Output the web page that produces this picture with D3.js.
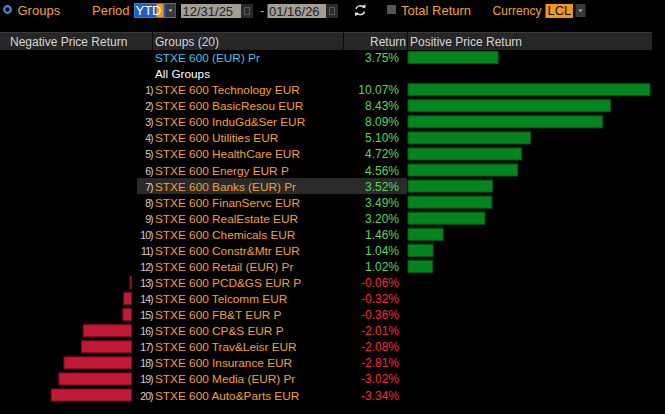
<!DOCTYPE html>
<html>
<head>
<meta charset="utf-8">
<script src="https://cdn.jsdelivr.net/npm/d3@7"></script>
<style>
  html, body { margin: 0; padding: 0; background: #000; }
  svg { display: block; font-family: "Liberation Sans", Arial, sans-serif; }
</style>
</head>
<body>
<svg id="chart" width="665" height="414"></svg>
<script>
// index row + groups
const indexName = "STXE 600 (EUR) Pr";
const indexReturn = 3.75;

const groupNames = [
  "STXE 600 Technology EUR", "STXE 600 BasicResou EUR", "STXE 600 InduGd&Ser EUR",
  "STXE 600 Utilities EUR", "STXE 600 HealthCare EUR", "STXE 600 Energy EUR P",
  "STXE 600 Banks (EUR) Pr", "STXE 600 FinanServc EUR", "STXE 600 RealEstate EUR",
  "STXE 600 Chemicals EUR", "STXE 600 Constr&Mtr EUR", "STXE 600 Retail (EUR) Pr",
  "STXE 600 PCD&GS EUR P", "STXE 600 Telcomm EUR", "STXE 600 FB&T EUR P",
  "STXE 600 CP&S EUR P", "STXE 600 Trav&Leisr EUR", "STXE 600 Insurance EUR",
  "STXE 600 Media (EUR) Pr", "STXE 600 Auto&Parts EUR"
];
const groupReturns = [
  10.07, 8.43, 8.09, 5.10, 4.72, 4.56, 3.52, 3.49, 3.20, 1.46, 1.04, 1.02,
  -0.06, -0.32, -0.36, -2.01, -2.08, -2.81, -3.02, -3.34
];
const highlighted = 6; // Banks row

const headers = ["Negative Price Return", "Groups (20)", "Return", "Positive Price Return"];
const periodLabel = "YTD";
const startDate = "12/31/25";
const endDate = "01/16/26";
const currency = "LCL";

const ORANGE = "#f5a02a";
const svg = d3.select("#chart");

// ---- toolbar ----
const bar = svg.append("g").attr("font-size", 13);
bar.append("circle").attr("cx", 7.5).attr("cy", 9.5).attr("r", 3.3)
  .attr("fill", "none").attr("stroke", "#3d8fe0").attr("stroke-width", 2.2);
bar.append("text").attr("x", 17.5).attr("y", 14.5).attr("fill", ORANGE).text("Groups");
bar.append("text").attr("x", 92).attr("y", 14.5).attr("fill", ORANGE).text("Period");

bar.append("rect").attr("x", 134.5).attr("y", 3.5).attr("width", 41).attr("height", 14)
  .attr("fill", "#1f5fc0").attr("stroke", "#2f7ce0");
bar.append("rect").attr("x", 156.5).attr("y", 4).attr("width", 7).attr("height", 13).attr("fill", "#f5961e");
bar.append("text").attr("x", 135.5).attr("y", 15).attr("fill", "#fff").text(periodLabel);
function dropdown(x) {
  bar.append("rect").attr("x", x).attr("y", 4).attr("width", 10).attr("height", 13).attr("fill", "#3a3a3a");
  bar.append("path").attr("d", `M${x + 3},9.5 L${x + 7},9.5 L${x + 5},12 Z`).attr("fill", "#c8c8c8");
}
dropdown(165.5);

function dateBox(x, w, label) {
  bar.append("rect").attr("x", x).attr("y", 4).attr("width", w).attr("height", 14).attr("fill", "#a59d8f");
  bar.append("text").attr("x", x + 1.5).attr("y", 15.5).attr("fill", "#1a2038").text(label);
  bar.append("rect").attr("x", x + w).attr("y", 4).attr("width", 12).attr("height", 14).attr("fill", "#2a2a2a");
  bar.append("rect").attr("x", x + w + 3.5).attr("y", 7.5).attr("width", 5).attr("height", 7)
    .attr("fill", "none").attr("stroke", "#5a5a5a");
}
dateBox(181, 60, startDate);
bar.append("text").attr("x", 260).attr("y", 14.5).attr("fill", ORANGE).text("-");
dateBox(267.5, 58.5, endDate);

// refresh icon
bar.append("path").attr("d", "M356,9 A4.3,4.3 0 0 1 363.8,7.8 M364.5,11.5 A4.3,4.3 0 0 1 356.7,12.7")
  .attr("fill", "none").attr("stroke", "#e0e0e0").attr("stroke-width", 1.4);
bar.append("path").attr("d", "M362,6 L365.5,8.5 L365.5,4.5 Z M358.5,14.5 L355,12 L355,16 Z").attr("fill", "#e0e0e0");

bar.append("rect").attr("x", 387).attr("y", 5).attr("width", 9).attr("height", 9).attr("fill", "#555");
bar.append("text").attr("x", 401).attr("y", 14.5).attr("fill", ORANGE).text("Total Return");
bar.append("text").attr("x", 492.5).attr("y", 14.5).attr("fill", ORANGE)
  .attr("textLength", 49).attr("lengthAdjust", "spacingAndGlyphs").text("Currency");
bar.append("rect").attr("x", 545.5).attr("y", 4).attr("width", 27.5).attr("height", 14).attr("fill", "#f5961e");
bar.append("text").attr("x", 547.5).attr("y", 15).attr("fill", "#111").text(currency);
dropdown(575.5);

// ---- header ----
const head = svg.append("g").attr("font-size", 12).attr("fill", "#d6d6d6");
head.append("rect").attr("x", 0).attr("y", 32).attr("width", 652).attr("height", 18).attr("fill", "#262626");
head.append("line").attr("x1", 0).attr("x2", 652).attr("y1", 32.5).attr("y2", 32.5).attr("stroke", "#3a3a3a");
[152, 343, 407].forEach(x => {
  head.append("line").attr("x1", x + 0.5).attr("x2", x + 0.5).attr("y1", 32).attr("y2", 50).attr("stroke", "#0d0d0d");
});
head.append("text").attr("x", 10).attr("y", 45.5).text(headers[0]);
head.append("text").attr("x", 155).attr("y", 45.5).text(headers[1]);
head.append("text").attr("x", 406).attr("y", 45.5).attr("text-anchor", "end").text(headers[2]);
head.append("text").attr("x", 410).attr("y", 45.5).text(headers[3]);

// ---- rows ----
const rows = [{ key: "idx", name: indexName, value: indexReturn, kind: "index" },
  { key: "all", name: "All Groups", value: null, kind: "title" }]
  .concat(groupNames.map((n, i) => ({ key: "g" + i, name: n, value: groupReturns[i], kind: "group", rank: i + 1 })));

const y = d3.scaleBand().domain(rows.map(d => d.key)).range([49.5, 49.5 + rows.length * 16.07]);
const maxAbs = d3.max(groupReturns.concat(indexReturn), v => Math.abs(v));
const w = d3.scaleLinear().domain([0, maxAbs]).range([0, 242]);
const posX0 = 408, negX0 = 131.5;

const g = svg.append("g");
const hl = rows[highlighted + 2];
g.append("rect").attr("x", 137).attr("y", y(hl.key)).attr("width", 270).attr("height", y.bandwidth())
  .attr("fill", "#2a2a2a");

rows.forEach(d => {
  const cy = y(d.key) + y.bandwidth() / 2;
  const nameColor = d.kind === "index" ? "#40c4e8" : d.kind === "title" ? "#fff" : ORANGE;
  g.append("text").attr("x", 155).attr("y", cy + 4.5).attr("fill", nameColor).attr("font-size", 11.8).text(d.name);
  if (d.rank) {
    g.append("text").attr("x", 152.5).attr("y", cy + 4.5).attr("text-anchor", "end")
      .attr("fill", "#d8d2c4").attr("font-size", 10.5).attr("letter-spacing", -1).text(d.rank + ")");
  }
  if (d.value === null) return;
  const pos = d.value >= 0;
  g.append("text").attr("x", 399).attr("y", cy + 4.5).attr("text-anchor", "end")
    .attr("fill", pos ? "#56d85a" : "#ff2438").attr("font-size", 12)
    .text(d.value.toFixed(2) + "%");
  const bw = w(Math.abs(d.value));
  g.append("rect")
    .attr("x", pos ? posX0 : negX0 - bw).attr("y", cy - 6).attr("width", Math.max(bw, 1)).attr("height", 12)
    .attr("fill", pos ? "#03841c" : "#c21a36")
    .attr("stroke", pos ? "#015c12" : "#7a1020").attr("stroke-width", 1);
});
</script>
</body>
</html>
